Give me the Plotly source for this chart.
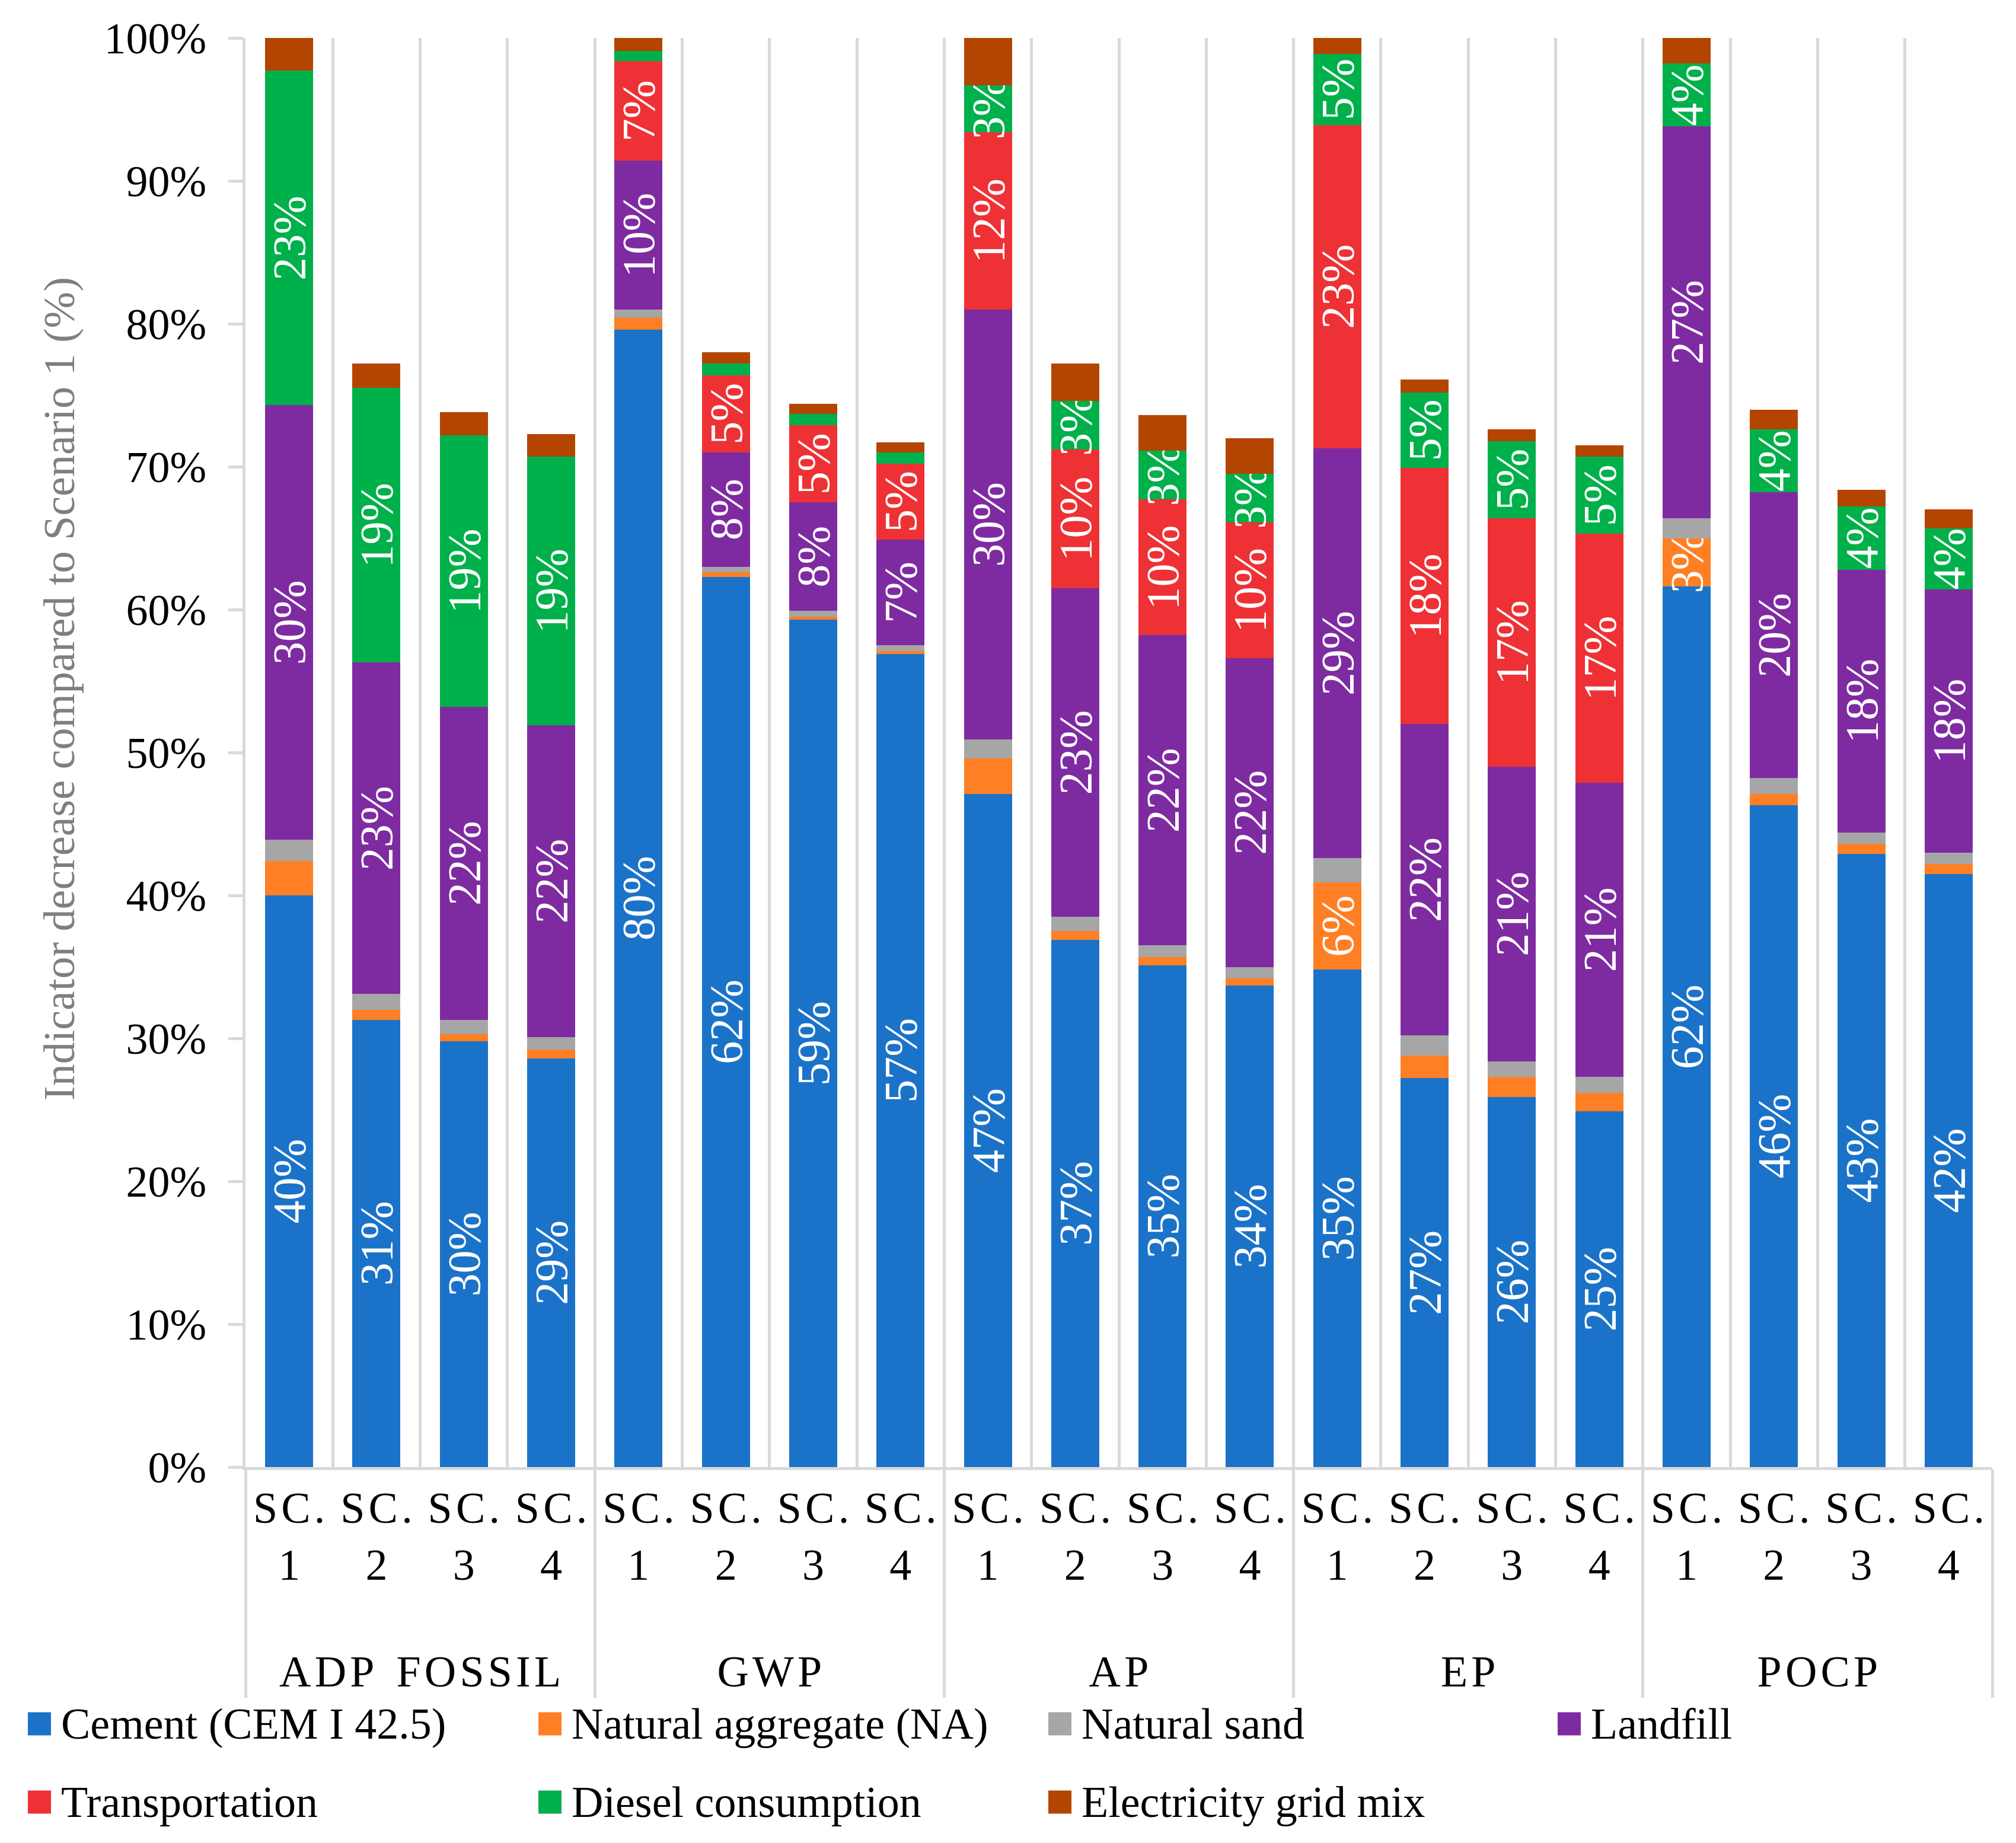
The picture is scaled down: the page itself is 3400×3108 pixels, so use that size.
import plotly.graph_objects as go

# ---------------- data ----------------
indicators = ["ADP FOSSIL", "GWP", "AP", "EP", "POCP"]
scenarios = ["SC. 1", "SC. 2", "SC. 3", "SC. 4"]

series_names = ["Cement (CEM I 42.5)", "Natural aggregate (NA)", "Natural sand", "Landfill",
                "Transportation", "Diesel consumption", "Electricity grid mix"]
series_colors = ["#1A73C8", "#FF7F24", "#A6A6A6", "#7E2BA1", "#EE3134", "#00B04B", "#B34500"]

cement = [40.0, 31.3, 29.8, 28.6, 79.6, 62.3, 59.3, 56.9, 47.1, 36.9, 35.1, 33.7,
          34.8, 27.2, 25.9, 24.9, 61.6, 46.3, 42.9, 41.5]
natural_aggregate = [2.4, 0.7, 0.5, 0.6, 0.8, 0.3, 0.2, 0.2, 2.5, 0.6, 0.6, 0.5,
                     6.1, 1.6, 1.4, 1.3, 3.4, 0.8, 0.7, 0.7]
natural_sand = [1.5, 1.1, 1.0, 0.9, 0.6, 0.4, 0.4, 0.4, 1.3, 1.0, 0.8, 0.8,
                1.7, 1.4, 1.1, 1.1, 1.4, 1.1, 0.8, 0.8]
landfill = [30.4, 23.2, 21.9, 21.8, 10.4, 8.0, 7.6, 7.4, 30.1, 23.0, 21.7, 21.6,
            28.7, 21.8, 20.6, 20.6, 27.4, 20.0, 18.4, 18.4]
transportation = [0, 0, 0, 0, 7.0, 5.4, 5.4, 5.3, 12.4, 9.7, 9.5, 9.5,
                  22.6, 17.9, 17.4, 17.4, 0, 0, 0, 0]
diesel = [23.4, 19.2, 19.0, 18.8, 0.7, 0.8, 0.8, 0.8, 3.3, 3.4, 3.4, 3.4,
          5.0, 5.3, 5.4, 5.4, 4.4, 4.4, 4.4, 4.3]
electricity = [2.3, 1.7, 1.6, 1.6, 0.9, 0.8, 0.7, 0.7, 3.3, 2.6, 2.5, 2.5,
               1.1, 0.9, 0.8, 0.8, 1.8, 1.4, 1.2, 1.3]

y_ticks = [0, 10, 20, 30, 40, 50, 60, 70, 80, 90, 100]
y_tick_labels = [f"{t}%" for t in y_ticks]
y_title = "Indicator decrease compared to Scenario 1 (%)"

series_values = [cement, natural_aggregate, natural_sand, landfill,
                 transportation, diesel, electricity]
labelled = [True, True, True, True, True, True, False]

# ---------------- figure ----------------
FONT = "Liberation Serif"
HS = "\u200a"   # hair space for letter spacing
FS = 74


def spaced(s):
    return "\u00a0\u00a0".join(HS.join(w) for w in s.split(" "))


outer = ["<br>" + spaced(g) for g in indicators for _ in scenarios]
inner = []
for _g in indicators:
    for s in scenarios:
        a, b = s.split(" ")
        inner.append(HS.join(a) + "<br>" + b)

fig = go.Figure()
for name, color, vals, lab in zip(series_names, series_colors, series_values, labelled):
    texts = [f"{int(v + 0.5)}%" if (lab and v >= 2.9) else "" for v in vals]
    fig.add_trace(go.Bar(
        x=[outer, inner], y=vals, name=name,
        marker=dict(color=color, line=dict(width=0)),
        text=texts, textposition="inside", insidetextanchor="middle",
        textangle=-90, constraintext="none",
        textfont=dict(family=FONT, size=78, color="white"),
        showlegend=False,
    ))

PLOT_L, PLOT_R, PLOT_T, PLOT_B = 406, 3352, 56, 2466
W, H = 3400, 3108
PLOT_W = PLOT_R - PLOT_L
PLOT_H = PLOT_B - PLOT_T

fig.update_layout(
    width=W, height=H,
    barmode="stack", bargap=0.45,
    plot_bgcolor="white", paper_bgcolor="white",
    margin=dict(l=PLOT_L, r=W - PLOT_R, t=PLOT_T, b=H - PLOT_B),
    font=dict(family=FONT, size=FS, color="black"),
)

fig.update_yaxes(
    range=[0, 100], tickvals=y_ticks, ticktext=y_tick_labels,
    showgrid=False, zeroline=False,
    showline=True, linecolor="#D9D9D9", linewidth=5,
    ticks="outside", ticklen=24, tickwidth=5, tickcolor="#D9D9D9",
    ticklabelstandoff=22,
    tickfont=dict(family=FONT, size=FS, color="black"),
)
fig.update_xaxes(
    showgrid=True, gridcolor="#D9D9D9", gridwidth=5, tickson="boundaries",
    showline=True, linecolor="#D9D9D9", linewidth=5,
    showdividers=True, dividercolor="#D9D9D9", dividerwidth=5,
    ticks="", tickfont=dict(family=FONT, size=FS, color="black"),
)

# y-axis title placed as in the reference
fig.add_annotation(
    text=y_title, xref="paper", yref="paper",
    x=(92 - PLOT_L) / PLOT_W, y=(PLOT_B - 1154) / PLOT_H,
    xanchor="center", yanchor="middle",
    textangle=-90, showarrow=False,
    font=dict(family=FONT, size=FS, color="#7F7F7F"),
)

# manual legend (two rows, fixed columns)
col_px = [39, 900, 1760, 2619]
row_px = [2899, 3031]
SQ = 39
for i, (name, color) in enumerate(zip(series_names, series_colors)):
    r, c = divmod(i, 4)
    x0 = (col_px[c] - PLOT_L) / PLOT_W
    x1 = (col_px[c] + SQ - PLOT_L) / PLOT_W
    yc = (PLOT_B - row_px[r]) / PLOT_H
    dy = (SQ / 2) / PLOT_H
    fig.add_shape(type="rect", xref="paper", yref="paper",
                  x0=x0, x1=x1, y0=yc - dy, y1=yc + dy,
                  fillcolor=color, line=dict(width=0))
    fig.add_annotation(text=name, xref="paper", yref="paper",
                       x=(col_px[c] + 54 - PLOT_L) / PLOT_W, y=yc,
                       xanchor="left", yanchor="middle", showarrow=False,
                       font=dict(family=FONT, size=FS, color="black"))

fig.write_html("out.html")
